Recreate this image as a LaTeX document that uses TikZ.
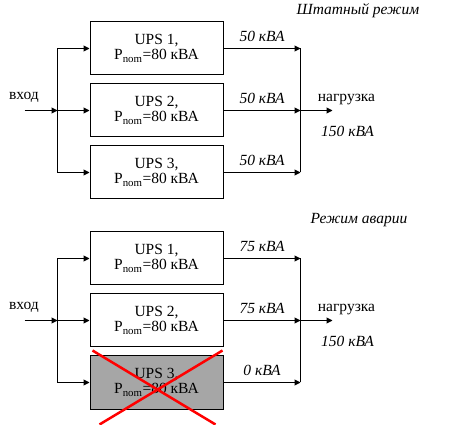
\documentclass[tikz,border=0pt]{standalone}
\usepackage{fontspec}
\setmainfont{Liberation Serif}
\usetikzlibrary{arrows.meta, positioning, calc}
\definecolor{failgray}{RGB}{166,166,166}
\definecolor{crossred}{RGB}{255,0,0}

\begin{document}
\begin{tikzpicture}[x=1pt, y=-1pt, >={Triangle[length=6pt,width=6pt]}, line width=1pt, node distance=8pt,
    every node/.style={font=\fontsize{15.5}{15}\selectfont},
    ups/.style={draw, rectangle, minimum width=133pt, minimum height=53pt, inner sep=0pt, align=center},
    flow/.style={font=\fontsize{15.5}{15}\selectfont\itshape}]
  \useasboundingbox (0,0) rectangle (456,425);

  % normal mode
  \node[flow] (t1) at (358,11) {Штатный режим};
  \node[ups] (a1) at (156.5,48.5) {UPS 1,\\P\textsubscript{nom}=80 кВА};
  \node[ups, below=of a1] (a2) {UPS 2,\\P\textsubscript{nom}=80 кВА};
  \node[ups, below=of a2] (a3) {UPS 3,\\P\textsubscript{nom}=80 кВА};
  \node (in1) at (24,97) {вход};
  \coordinate (s1) at ($(a2.west)+(-65,0)$);
  \coordinate (b1) at ($(a2.west)+(-32,0)$);
  \draw[->] (s1) -- (b1);
  \draw[->] (b1) |- (a1.west);
  \draw[->] (b1) -- (a2.west);
  \draw[->] (b1) |- (a3.west);
  \coordinate (m1) at ($(a2.east)+(77,0)$);
  \draw[->] (a1.east) -- (a1.east -| m1) node[flow, midway, above=3pt] (f11) {50 кВА};
  \draw[->] (a2.east) -- (m1) node[flow, midway, above=3pt] (f12) {50 кВА};
  \draw[->] (a3.east) -- (a3.east -| m1) node[flow, midway, above=3pt] (f13) {50 кВА};
  \draw (a1.east -| m1) -- (a3.east -| m1);
  \coordinate (o1) at ($(m1)+(32,0)$);
  \draw[->] (m1) -- (o1);
  \node (l1) at ($(m1)+(46,-11)$) {нагрузка};
  \node[flow] (p1) at ($(m1)+(47,21)$) {150 кВА};

  % emergency mode
  \node[flow] (t2) at (359,220) {Режим аварии};
  \node[ups] (e1) at (156.5,258.5) {UPS 1,\\P\textsubscript{nom}=80 кВА};
  \node[ups, below=of e1] (e2) {UPS 2,\\P\textsubscript{nom}=80 кВА};
  \node[ups, below=of e2, fill=failgray] (e3) {UPS 3,\\P\textsubscript{nom}=80 кВА};
  \node (in2) at (24,307) {вход};
  \coordinate (s2) at ($(e2.west)+(-65,0)$);
  \coordinate (b2) at ($(e2.west)+(-32,0)$);
  \draw[->] (s2) -- (b2);
  \draw[->] (b2) |- (e1.west);
  \draw[->] (b2) -- (e2.west);
  \draw[->] (b2) |- (e3.west);
  \coordinate (m2) at ($(e2.east)+(77,0)$);
  \draw[->] (e1.east) -- (e1.east -| m2) node[flow, midway, above=3pt] (f21) {75 кВА};
  \draw[->] (e2.east) -- (m2) node[flow, midway, above=3pt] (f22) {75 кВА};
  \draw[->] (e3.east) -- (e3.east -| m2) node[flow, midway, above=3pt] (f23) {0 кВА};
  \draw (e1.east -| m2) -- (e3.east -| m2);
  \coordinate (o2) at ($(m2)+(32,0)$);
  \draw[->] (m2) -- (o2);
  \node (l2) at ($(m2)+(46,-11)$) {нагрузка};
  \node[flow] (p2) at ($(m2)+(47,21)$) {150 кВА};
  % failed unit
  \draw[crossred, line width=2.5pt] ($(e3.north west)+(3,-5)$) -- ($(e3.south east)+(-8,15)$);
  \draw[crossred, line width=2.5pt] ($(e3.north east)+(-1,-5)$) -- ($(e3.south west)+(10,15)$);
\end{tikzpicture}
\end{document}
